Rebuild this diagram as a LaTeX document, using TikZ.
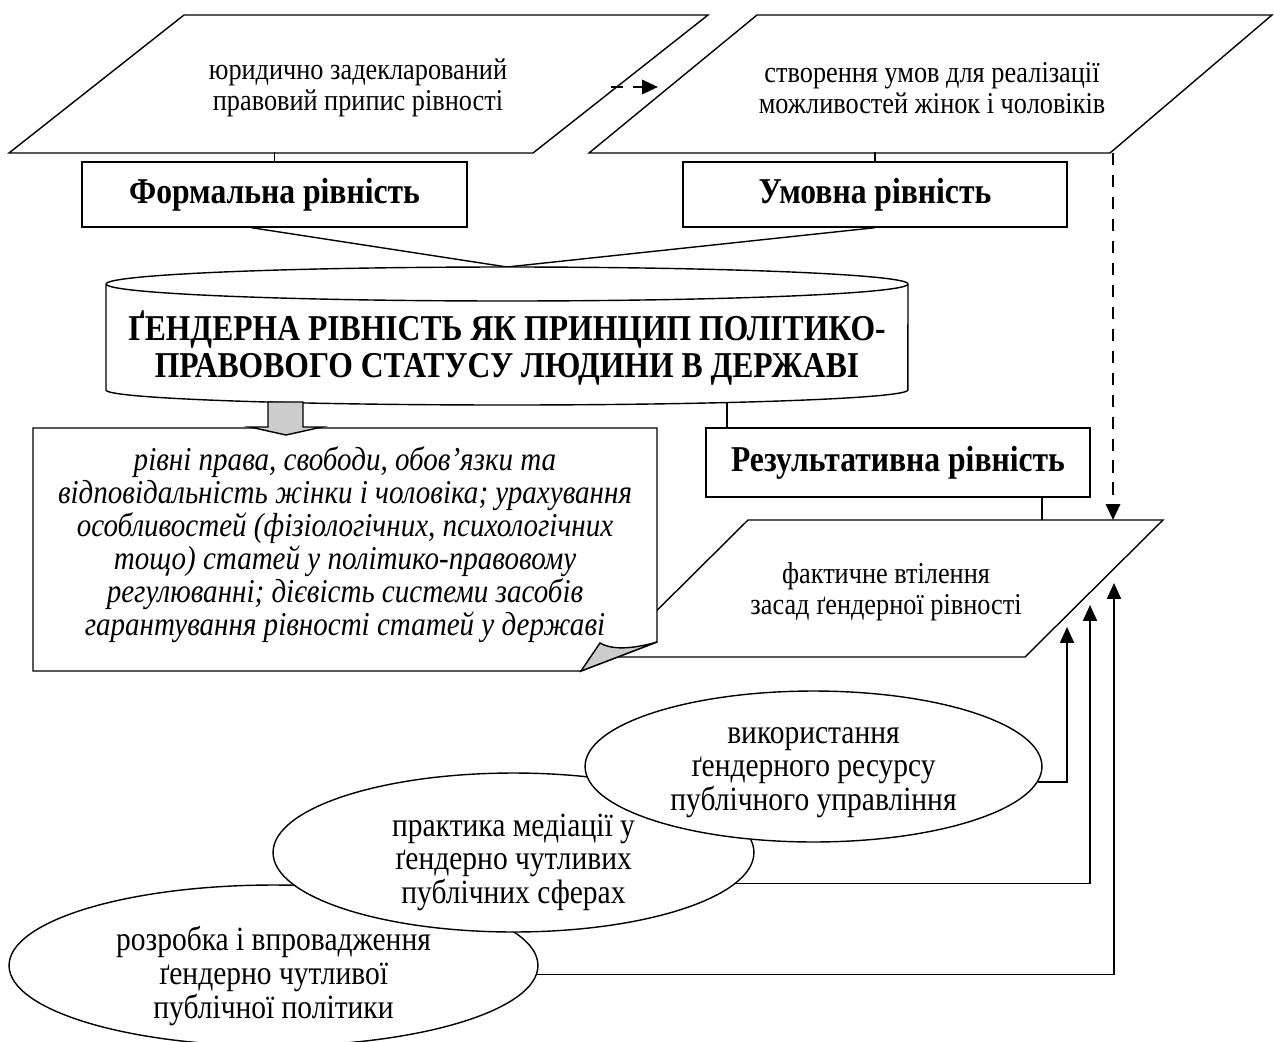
\documentclass[tikz,border=0pt]{standalone}
\usepackage{fontspec}
\setmainfont{Liberation Serif}[FakeStretch=0.87]
\usetikzlibrary{shapes.geometric,arrows.meta}

\tikzset{
  line/.style={line width=0.8pt},
  dashline/.style={line width=1.5pt, dash pattern=on 7pt off 5.5pt},
  bbox/.style={draw, line width=0.8pt, fill=white, inner sep=0pt, font=\fontsize{20.7}{24}\selectfont\bfseries},
  ptext/.style={align=center, inner sep=0pt, font=\fontsize{17.2}{17.6}\selectfont},
  oval/.style={ellipse, draw, line width=0.8pt, fill=white, inner sep=0pt},
  otext/.style={align=center, inner sep=0pt, font=\fontsize{19.3}{19.1}\selectfont},
}

\begin{document}
\begin{tikzpicture}[x=0.02cm, y=-0.02cm, >={Triangle[length=9pt, width=8pt]}]
\useasboundingbox (0,0) rectangle (1274,1041);

\draw[line] (184,15) -- (708,15) -- (533,153) -- (9,153) -- cycle;
\node[ptext] (legal) at (358,88) {юридично задекларований\\правовий припис рівності};

\draw[line] (757,15) -- (1272,15) -- (1110,153) -- (589,153) -- cycle;
\node[ptext] (cond) at (932,88) {створення умов для реалізації\\можливостей жінок і чоловіків};

\coordinate (dashA) at (611,87);
\coordinate (dashB) at (658,87);
\draw[dashline, ->] (dashA) -- (dashB);

\node[bbox, minimum width=7.7cm, minimum height=1.3cm] (formal) at (274.5,194.5) {Формальна рівність};
\node[bbox, minimum width=7.68cm, minimum height=1.3cm] (umovna) at (875,194.5) {Умовна рівність};
\draw[line] (formal.north) -- ++(0,-9);
\draw[line] (umovna.north) -- ++(0,-9);

% cylinder
\coordinate (cyltop) at (507,267);
\draw[line] ([xshift=-0.46cm]formal.south) -- (cyltop) -- (umovna.south);
\draw[line, fill=white] (106,284) -- (106,390)
  arc[start angle=180, end angle=360, x radius=8.02cm, y radius=0.3cm] -- (908,284)
  arc[start angle=0, end angle=180, x radius=8.02cm, y radius=0.34cm]
  arc[start angle=180, end angle=360, x radius=8.02cm, y radius=0.34cm];
\node[font=\fontsize{20.7}{21.2}\selectfont\bfseries, align=center, inner sep=0pt] (gender) at (507,348)
  {ҐЕНДЕРНА РІВНІСТЬ ЯК ПРИНЦИП ПОЛІТИКО-\\ПРАВОВОГО СТАТУСУ ЛЮДИНИ В ДЕРЖАВІ};

\draw[line, fill=white] (748,520) -- (1163,520) -- (1025,657) -- (610,657) -- cycle;
\node[ptext] (fact) at (886,592) {фактичне втілення\\засад ґендерної рівності};

% note with folded corner
\draw[line, fill=white] (33,428) -- (657,428) -- (657,642) -- (581,671) -- (33,671) -- cycle;
\draw[line, fill=gray!40] (581,671) -- (600,643) .. controls (614,651) and (636,648) .. (657,642) -- cycle;
\node[font=\fontsize{19}{18.8}\selectfont\itshape, align=center, inner sep=0pt] (rights) at (345,545)
  {рівні права, свободи, обов’язки та\\відповідальність жінки і чоловіка; урахування\\особливостей (фізіологічних, психологічних\\тощо) статей у політико-правовому\\регулюванні; дієвість системи засобів\\гарантування рівності статей у державі};

\draw[line, fill=gray!40] (268,402) -- (303,402) -- (303,427) -- (322,427) -- (286,435) -- (250,427) -- (268,427) -- cycle;

\node[bbox, minimum width=7.68cm, minimum height=1.38cm] (rezult) at (898,462.5) {Результативна рівність};
\coordinate (cylbot) at (727,402);
\draw[line] (cylbot) -- (cylbot |- rezult.north);
\coordinate (pbjoin) at (1042,520);
\draw[line] (pbjoin |- rezult.south) -- (pbjoin);

\coordinate (condBR) at (1113,153);
\coordinate (pbtop) at (1113,520);
\draw[dashline, ->] (condBR) -- (pbtop);

% ellipses
\node[oval, minimum width=10.58cm, minimum height=3.22cm] (policy) at (273.5,965.5) {};
\node[otext] (policytext) at (273.5,976) {розробка і впровадження\\ґендерно чутливої\\публічної політики};
\node[oval, minimum width=9.62cm, minimum height=3.18cm] (mediation) at (513.5,852.5) {};
\node[otext] (mediationtext) at (513.5,862) {практика медіації у\\ґендерно чутливих\\публічних сферах};
\node[oval, minimum width=9.14cm, minimum height=3.02cm] (resource) at (813.5,766.5) {};
\node[otext] (resourcetext) at (813.5,772.5) {використання\\ґендерного ресурсу\\публічного управління};

\coordinate (tip1) at (1067,627);
\coordinate (tip2) at (1090,605);
\coordinate (tip3) at (1114,583);
\draw[line, ->] (resource.356) -| (tip1);
\draw[line, ->] (mediation.352) -| (tip2);
\draw[line, ->] (policy.358) -| (tip3);

\end{tikzpicture}
\end{document}
